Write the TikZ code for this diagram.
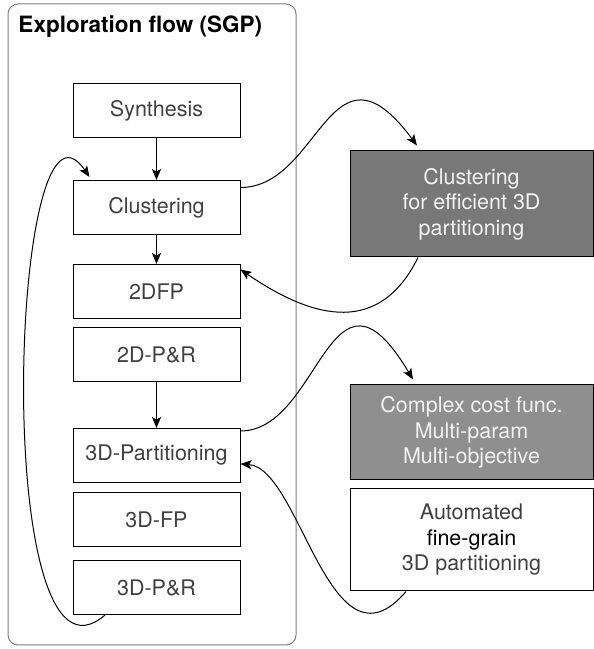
\documentclass[tikz,border=0pt]{standalone}
\usepackage{fontspec}
\setmainfont{TeX Gyre Heros}
\usepackage{tikz}
\usetikzlibrary{arrows.meta}
\usetikzlibrary{positioning}
\tikzset{
    stage/.style = {draw, line width=1pt, text=black!75,
                 minimum width=167pt, minimum height=54pt, align=center,
                 font=\fontsize{21.5}{26}\selectfont},
    note/.style = {draw, line width=1pt, minimum width=243pt, align=center,
                 font=\fontsize{21.5}{25.5}\selectfont},
}

\begin{document}
\begin{tikzpicture}[x=1pt,y=1pt,line width=1pt,>={Stealth[length=11pt,width=9pt,inset=2.5pt]}]
\useasboundingbox (0,0) rectangle (594,649);
\node (frame) [draw=black!50, rounded corners=10pt, minimum width=288pt, minimum height=641pt] at (152,324.5) {};
\node (title) [anchor=base west, inner sep=0pt, font=\fontsize{22.5}{27}\selectfont\bfseries] at (18,616) {Exploration flow (SGP)};

\node (syn)  [stage] at (156.5,538.5) {Synthesis};
\node (clu)  [stage, below=42pt of syn] {Clustering};
\node (dfp)  [stage, below=29pt of clu] {2DFP};
\node (pr2)  [stage, below=8pt of dfp]  {2D-P\&R};
\node (part) [stage, below=46pt of pr2] {3D-Partitioning};
\node (fp3)  [stage, below=9pt of part] {3D-FP};
\node (pr3)  [stage, below=13pt of fp3] {3D-P\&R};

\node (eff)  [note, fill=black!53, text=black!5, minimum height=106pt] at (471.5,445)
 {Clustering\\for efficient 3D\\partitioning};
\node (cost) [note, fill=black!44, text=black!5, minimum height=95pt] at (471.5,216.5)
 {Complex cost func.\\Multi-param\\Multi-objective};
\node (auto) [note, text=black!75, minimum height=102pt, below=8pt of cost]
 {Automated\\\textcolor{black}{fine-grain}\\3D partitioning};

\draw[->] (syn) -- (clu);
\draw[->] (clu) -- (dfp);
\draw[->] (pr2) -- (part);
\draw[->] ([yshift=20pt]clu.east) .. controls +(80,0) and +(-87,117) .. ([xshift=-54.5pt,yshift=5pt]eff.north);
\draw[->] ([xshift=-53.5pt]eff.south) .. controls +(-38,-77) and +(75,-51.5) .. ([yshift=22pt]dfp.east);
\draw[->] ([yshift=24.5pt]part.east) .. controls +(80,0) and +(-83,139) .. ([xshift=-58.5pt,yshift=5pt]cost.north);
\draw[->] ([xshift=-65.5pt]auto.south) .. controls +(-76,-89) and +(60,-4) .. ([yshift=-8.5pt]part.east);
\draw[->] ([xshift=-51.5pt]pr3.south) .. controls +(-115,-100) and +(-80,117.5) .. ([xshift=17pt,yshift=3pt]clu.north west);

%\path (part) edge[bend left=20] (cost);
\end{tikzpicture}
\end{document}
